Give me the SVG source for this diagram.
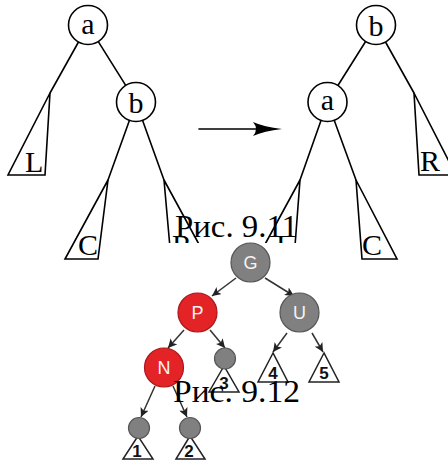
<svg xmlns="http://www.w3.org/2000/svg" width="448" height="462" viewBox="0 0 448 462">
  <style>
    .edge { stroke: #000; stroke-width: 1.6; fill: none; stroke-linecap: round; }
    .tnode { fill: #fff; stroke: #000; stroke-width: 1.6; }
    .tri { fill: #fff; stroke: #000; stroke-width: 1.6; stroke-linejoin: miter; }
    .tex { font-family: "Liberation Serif", "DejaVu Serif", serif; font-size: 30px; fill: #000; }
    .cap { font-family: "Liberation Serif", "DejaVu Serif", serif; font-size: 32px; fill: #000; }
    .rb-black { fill: #808080; stroke: #555; stroke-width: 1.2; }
    .rb-red { fill: #e42326; stroke: #a8181b; stroke-width: 1.2; }
    .rb-leaf { fill: #fff; stroke: #222; stroke-width: 1.5; stroke-linejoin: miter; }
    .rb-label { font-family: "Liberation Sans", Arial, sans-serif; font-size: 18px; fill: #f4f4f4; text-anchor: middle; }
    .rb-num { font-family: "Liberation Sans", Arial, sans-serif; font-size: 17px; font-weight: bold; fill: #111; text-anchor: middle; }
    .rb-edge { stroke: #333; stroke-width: 1.5; fill: none; marker-end: url(#rbhead); }
  </style>
  <defs>
    <marker id="rbhead" viewBox="0 0 10 10" refX="10" refY="5" markerWidth="9" markerHeight="9" markerUnits="userSpaceOnUse" orient="auto">
      <path d="M0,0 L10,5 L0,10 L2.5,5 Z" fill="#222"/>
    </marker>
  </defs>

  <!-- Rotation: tree before -->
  <g id="left-tree-edges">
    <line class="edge" x1="98.3" y1="41.6" x2="125.7" y2="85.4"/>
    <line class="edge" x1="78.5" y1="42" x2="50" y2="93"/>
    <line class="edge" x1="129.4" y1="120.4" x2="108" y2="180"/>
    <line class="edge" x1="142.6" y1="120.4" x2="164" y2="180"/>
  </g>
  <g id="left-a"><circle class="tnode" cx="88" cy="25" r="19.5"/><text class="tex" x="88" y="34" text-anchor="middle">a</text></g>
  <g id="left-b"><circle class="tnode" cx="136" cy="102" r="19.5"/><text class="tex" x="136" y="113" text-anchor="middle">b</text></g>
  <g id="left-L"><polygon class="tri" points="50,93 8,175 45,175"/><text class="tex" x="25" y="172">L</text></g>
  <g id="left-C"><polygon class="tri" points="108,180 65,259 98,259"/><text class="tex" x="78" y="255">C</text></g>
  <g id="left-R"><polygon class="tri" points="164,180 207,259 171,259"/><text class="tex" x="172" y="255">R</text></g>

  <!-- Transition arrow -->
  <g id="rotate-arrow">
    <line class="edge" x1="199" y1="129" x2="266" y2="129" stroke-width="2"/>
    <path d="M282,129 Q264,131 253,136 Q259,129 253,122 Q264,127 282,129 Z" fill="#000"/>
  </g>

  <!-- Rotation: tree after -->
  <g id="right-tree-edges">
    <line class="edge" x1="365.6" y1="41.5" x2="337.9" y2="85.5"/>
    <line class="edge" x1="385.5" y1="42" x2="414" y2="93"/>
    <line class="edge" x1="321" y1="120.4" x2="300" y2="180"/>
    <line class="edge" x1="334.2" y1="120.3" x2="356" y2="180"/>
  </g>
  <g id="right-b"><circle class="tnode" cx="376" cy="25" r="19.5"/><text class="tex" x="376" y="36" text-anchor="middle">b</text></g>
  <g id="right-a"><circle class="tnode" cx="327.5" cy="102" r="19.5"/><text class="tex" x="327.5" y="110" text-anchor="middle">a</text></g>
  <g id="right-R"><polygon class="tri" points="414,93 456,175 419,175"/><text class="tex" x="420" y="171">R</text></g>
  <g id="right-L"><polygon class="tri" points="300,180 257,259 294,259"/><text class="tex" x="276" y="255">L</text></g>
  <g id="right-C"><polygon class="tri" points="356,180 397,259 362,259"/><text class="tex" x="362" y="255">C</text></g>

  <text class="cap" x="175" y="237" textLength="123" lengthAdjust="spacingAndGlyphs">Рис. 9.11</text>

  <!-- Red-black tree panel -->
  <rect x="112" y="243" width="236" height="219" fill="#fff"/>
  <g id="rb-edges">
    <line class="rb-edge" x1="236" y1="278" x2="212" y2="296"/>
    <line class="rb-edge" x1="265" y1="278" x2="294" y2="296"/>
    <line class="rb-edge" x1="184" y1="330" x2="168" y2="348"/>
    <line class="rb-edge" x1="210" y1="330" x2="225" y2="348"/>
    <line class="rb-edge" x1="287" y1="333" x2="273" y2="352"/>
    <line class="rb-edge" x1="312" y1="333" x2="323" y2="352"/>
    <line class="rb-edge" x1="155" y1="386" x2="141" y2="417"/>
    <line class="rb-edge" x1="173" y1="386" x2="187" y2="417"/>
  </g>
  <g id="node-G"><circle class="rb-black" cx="250.5" cy="262.5" r="19.5"/><text class="rb-label" x="250.5" y="269">G</text></g>
  <g id="node-P"><circle class="rb-red" cx="197.5" cy="312.5" r="19.5"/><text class="rb-label" x="197.5" y="319">P</text></g>
  <g id="node-U"><circle class="rb-black" cx="299.5" cy="312.5" r="19.5"/><text class="rb-label" x="299.5" y="319">U</text></g>
  <g id="node-N"><circle class="rb-red" cx="164" cy="367.5" r="19.5"/><text class="rb-label" x="164" y="374">N</text></g>
  <g id="leaf-3"><polygon class="rb-leaf" points="224,366 209,392 239,392"/><circle class="rb-black" cx="225" cy="358.5" r="10.5"/><text class="rb-num" x="224" y="389">3</text></g>
  <g id="leaf-4"><polygon class="rb-leaf" points="273,353 258,382 288,382"/><text class="rb-num" x="273" y="379">4</text></g>
  <g id="leaf-5"><polygon class="rb-leaf" points="324,353 309,382 339,382"/><text class="rb-num" x="324" y="379">5</text></g>
  <g id="leaf-1"><polygon class="rb-leaf" points="138,436 123,459 153,459"/><circle class="rb-black" cx="139" cy="428" r="10.5"/><text class="rb-num" x="137" y="457">1</text></g>
  <g id="leaf-2"><polygon class="rb-leaf" points="190,436 176,459 205,459"/><circle class="rb-black" cx="190" cy="428" r="10.5"/><text class="rb-num" x="189" y="457">2</text></g>

  <text class="cap" x="173" y="402" textLength="127" lengthAdjust="spacingAndGlyphs">Рис. 9.12</text>
</svg>
